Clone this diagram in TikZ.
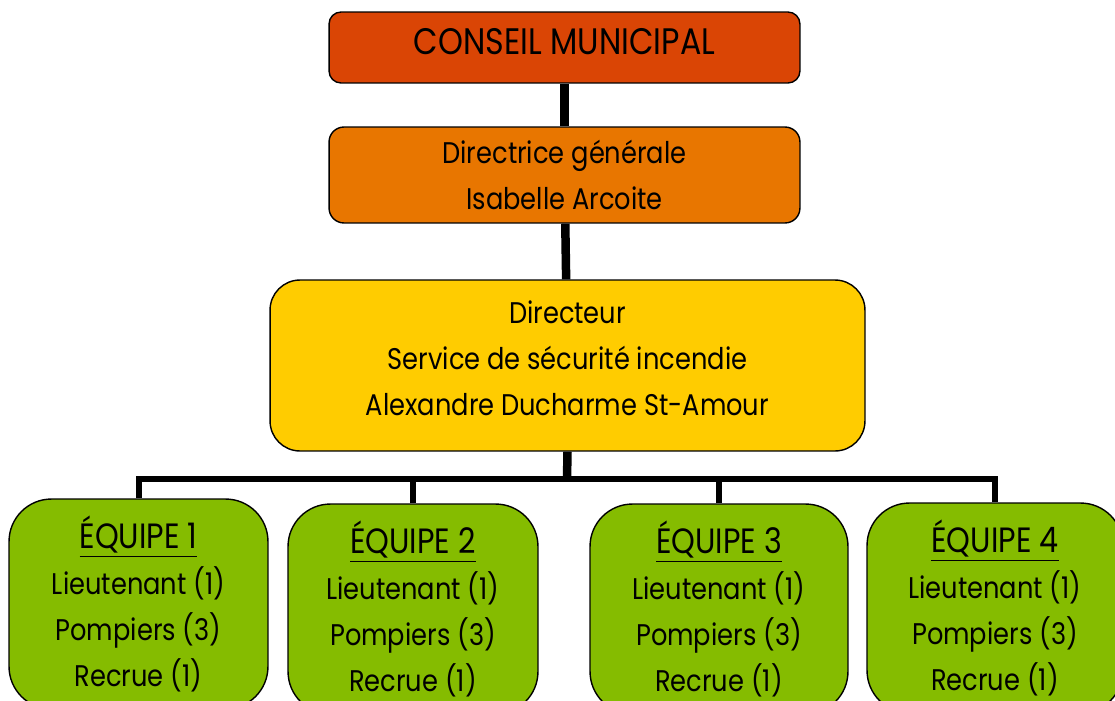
\documentclass[tikz,border=0pt]{standalone}
\usepackage{fontspec}
\setmainfont{Poppins}[FakeStretch=0.86]
\definecolor{conseilred}{HTML}{DA4505}
\definecolor{directorange}{HTML}{E87600}
\definecolor{serviceyellow}{HTML}{FFCC00}
\definecolor{equipegreen}{HTML}{85BC00}
\newcommand{\equipetitle}[1]{{\fontsize{20}{26}\selectfont\underline{ÉQUIPE #1}}}
\tikzset{
  orgbox/.style={rectangle,draw=black,line width=0.8pt,align=center,inner sep=0pt,
    font=\fontsize{17}{26}\selectfont},
  mainlink/.style={draw=black,line width=0.17cm},
  branchlink/.style={draw=black,line width=0.12cm}
}
\begin{document}
\begin{tikzpicture}[x=0.02cm,y=-0.02cm]
    \useasboundingbox (0,0) rectangle (1115,700);
    \clip (0,0) rectangle (1115,700);

    \begin{scope}[every node/.style={orgbox}]
        \node[fill=conseilred,rounded corners=0.24cm,minimum width=9.42cm,minimum height=1.42cm,text depth=0.26cm,font=\fontsize{21}{26}\selectfont] (conseil) at (564.5,47.5) {CONSEIL MUNICIPAL};
        \node[fill=directorange,rounded corners=0.3cm,minimum width=9.42cm,minimum height=1.92cm] (dg) at (564.5,175) {Directrice générale\\Isabelle Arcoite};
        \node[fill=serviceyellow,rounded corners=0.6cm,minimum width=11.9cm,minimum height=3.42cm,text depth=0.3cm] (ssi) at (567.5,365.5) {Directeur\\Service de sécurité incendie\\Alexandre Ducharme St-Amour};
    \end{scope}

    \begin{scope}[every node/.style={orgbox,fill=equipegreen,rounded corners=0.85cm,minimum height=4.2cm}]
        \node[minimum width=5.18cm] (eq1) at (138.5,604) {\equipetitle{1}\\Lieutenant (1)\\Pompiers (3)\\Recrue (1)};
        \node[minimum width=5.0cm] (eq2) at (413,609) {\equipetitle{2}\\Lieutenant (1)\\Pompiers (3)\\Recrue (1)};
        \node[minimum width=5.16cm] (eq3) at (719,609) {\equipetitle{3}\\Lieutenant (1)\\Pompiers (3)\\Recrue (1)};
        \node[minimum width=5.12cm] (eq4) at (995,608) {\equipetitle{4}\\Lieutenant (1)\\Pompiers (3)\\Recrue (1)};
    \end{scope}

    \coordinate (bus) at (567,479);
    \path[mainlink] (conseil) -- (dg);
    \path[mainlink] (dg) -- (ssi);
    \path[mainlink] (ssi.south) -- (bus);
    \foreach \eq in {eq1,eq2,eq3,eq4}
        \path[branchlink] (\eq.north) |- (bus);
\end{tikzpicture}
\end{document}
